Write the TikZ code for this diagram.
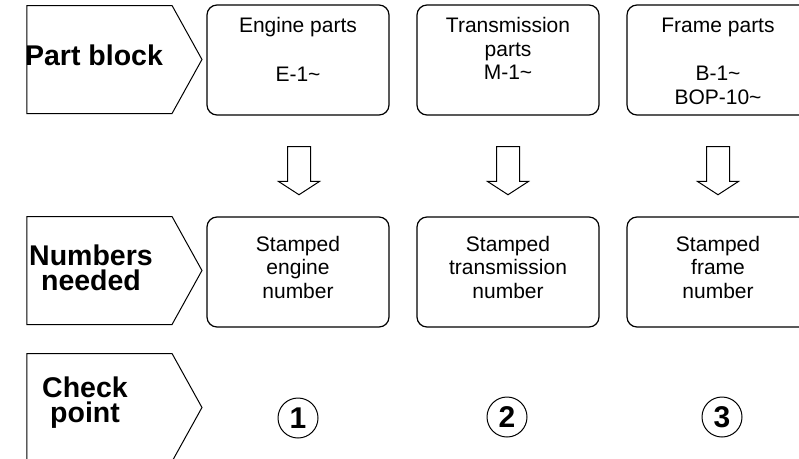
\documentclass[tikz,border=0pt]{standalone}
\usepackage{fontspec}
\setmainfont{Liberation Sans}
\usetikzlibrary{shapes.symbols, shapes.arrows}

\begin{document}
\begin{tikzpicture}[
                x = 1pt, y = -1pt,
                tag/.style = {draw, line width = 1pt, signal, signal to = east, signal pointer angle = 122,
                    minimum width = 175pt, minimum height = 108pt, inner sep = 0pt},
                lab/.style = {anchor = north, inner sep = 0pt, align = center,
                    font = \fontsize{28.5}{25}\selectfont\bfseries},
                box/.style = {draw, line width = 1.2pt, rounded corners = 10pt, minimum width = 182pt, minimum height = 110pt},
                txt/.style = {anchor = north, inner sep = 0pt, align = center, font = \fontsize{21}{23.5}\selectfont},
                down/.style = {draw, line width = 1pt, single arrow, shape border rotate = 270, single arrow tip angle = 114,
                    single arrow head extend = 9pt, minimum height = 48pt, inner sep = 11pt},
                num/.style = {draw, line width = 1pt, circle, minimum size = 40pt, inner sep = 0pt,
                    font = \fontsize{30}{30}\selectfont\bfseries},
            ]
            \useasboundingbox (0, 0) rectangle (799, 458);

            \node (P1) at (99.5, 59.5) [tag] {};
            \node (P2) at (99.5, 270.5) [tag] {};
            \node (P3) at (99.5, 407.5) [tag] {};
            \node (P1t) at (94, 45) [lab] {Part block};
            \node (P2t) at (91, 245) [lab] {Numbers\\needed};
            \node (P3t) at (85, 377) [lab] {Check\\point};

            \node (B1) at (298, 60) [box] {};
            \node (B2) at (508, 60) [box] {};
            \node (B3) at (718, 60) [box] {};
            \node (B1t) at (298, 17.5) [txt] {Engine parts\\[25pt]E-1\textasciitilde};
            \node (B2t) at (508, 17.5) [txt] {Transmission\\parts\\M-1\textasciitilde};
            \node (B3t) at (718, 17.5) [txt] {Frame parts\\[25pt]B-1\textasciitilde\\BOP-10\textasciitilde};

            \node (D1) at (299, 167) [down] {};
            \node (D2) at (508, 167) [down] {};
            \node (D3) at (718, 167) [down] {};

            \node (S1) at (298, 272) [box] {};
            \node (S2) at (508, 272) [box] {};
            \node (S3) at (718, 272) [box] {};
            \node (S1t) at (298, 236) [txt] {Stamped\\engine\\number};
            \node (S2t) at (508, 236) [txt] {Stamped\\transmission\\number};
            \node (S3t) at (718, 236) [txt] {Stamped\\frame\\number};

            \node (C1) at (298, 418) [num] {1};
            \node (C2) at (507, 417) [num] {2};
            \node (C3) at (722, 417) [num] {3};
        \end{tikzpicture}
\end{document}
